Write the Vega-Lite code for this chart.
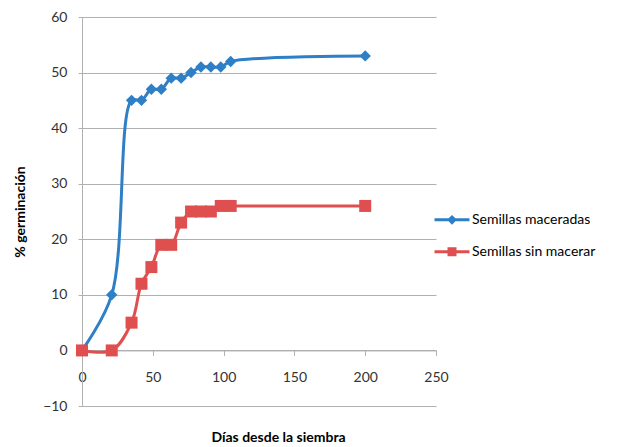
{
  "$schema": "https://vega.github.io/schema/vega-lite/v6.json",
  "width": 354,
  "height": 389,
  "autosize": {"type": "none"},
  "padding": {"left": 82, "top": 17, "right": 183, "bottom": 41},
  "background": "white",
  "config": {
    "font": "Lato",
    "view": {"stroke": null},
    "axis": {"labelFont": "Lato", "titleFont": "Lato", "labelColor": "#333333", "titleColor": "#000000"}
  },
  "data": {
    "values": [
      {"serie": "Semillas maceradas", "dias": 0, "pct": 0},
      {"serie": "Semillas maceradas", "dias": 21, "pct": 10},
      {"serie": "Semillas maceradas", "dias": 35, "pct": 45},
      {"serie": "Semillas maceradas", "dias": 42, "pct": 45},
      {"serie": "Semillas maceradas", "dias": 49, "pct": 47},
      {"serie": "Semillas maceradas", "dias": 56, "pct": 47},
      {"serie": "Semillas maceradas", "dias": 63, "pct": 49},
      {"serie": "Semillas maceradas", "dias": 70, "pct": 49},
      {"serie": "Semillas maceradas", "dias": 77, "pct": 50},
      {"serie": "Semillas maceradas", "dias": 84, "pct": 51},
      {"serie": "Semillas maceradas", "dias": 91, "pct": 51},
      {"serie": "Semillas maceradas", "dias": 98, "pct": 51},
      {"serie": "Semillas maceradas", "dias": 105, "pct": 52},
      {"serie": "Semillas maceradas", "dias": 200, "pct": 53},
      {"serie": "Semillas sin macerar", "dias": 0, "pct": 0},
      {"serie": "Semillas sin macerar", "dias": 21, "pct": 0},
      {"serie": "Semillas sin macerar", "dias": 35, "pct": 5},
      {"serie": "Semillas sin macerar", "dias": 42, "pct": 12},
      {"serie": "Semillas sin macerar", "dias": 49, "pct": 15},
      {"serie": "Semillas sin macerar", "dias": 56, "pct": 19},
      {"serie": "Semillas sin macerar", "dias": 63, "pct": 19},
      {"serie": "Semillas sin macerar", "dias": 70, "pct": 23},
      {"serie": "Semillas sin macerar", "dias": 77, "pct": 25},
      {"serie": "Semillas sin macerar", "dias": 84, "pct": 25},
      {"serie": "Semillas sin macerar", "dias": 91, "pct": 25},
      {"serie": "Semillas sin macerar", "dias": 98, "pct": 26},
      {"serie": "Semillas sin macerar", "dias": 105, "pct": 26},
      {"serie": "Semillas sin macerar", "dias": 200, "pct": 26}
    ]
  },
  "encoding": {
    "x": {
      "field": "dias",
      "type": "quantitative",
      "scale": {"domain": [0, 250], "nice": false, "zero": false},
      "axis": {
        "values": [0, 50, 100, 150, 200, 250],
        "offset": -55.571,
        "grid": false,
        "domainColor": "#b0b0b0",
        "tickColor": "#b0b0b0",
        "tickSize": 5,
        "labelFontSize": 14,
        "labelPadding": 15,
        "labelFlush": false,
        "title": "Días desde la siembra",
        "titleFontSize": 14,
        "titleFontWeight": "bold",
        "titleAlign": "center",
        "titleBaseline": "alphabetic",
        "titleX": 196,
        "titleY": 91.5
      }
    },
    "y": {
      "field": "pct",
      "type": "quantitative",
      "scale": {"domain": [-10, 60], "nice": false, "zero": false},
      "axis": {
        "values": [-10, 0, 10, 20, 30, 40, 50, 60],
        "grid": true,
        "gridColor": "#b0b0b0",
        "domainColor": "#b0b0b0",
        "tickColor": "#b0b0b0",
        "tickSize": 4,
        "labelFontSize": 14,
        "labelPadding": 11,
        "labelFlush": false,
        "title": "% germinación",
        "titleFontSize": 14,
        "titleFontWeight": "bold",
        "titleAngle": -90,
        "titleAlign": "center",
        "titleBaseline": "alphabetic",
        "titleX": -58,
        "titleY": 194.5
      }
    }
  },
  "layer": [
    {
      "mark": {"type": "line", "interpolate": "catmull-rom", "strokeWidth": 3},
      "encoding": {
        "color": {
          "field": "serie",
          "type": "nominal",
          "scale": {"domain": ["Semillas maceradas", "Semillas sin macerar"], "range": ["#2e7fc6", "#e04f4f"]},
          "legend": {
            "orient": "none",
            "legendX": 358.5,
            "legendY": 191.3,
            "title": null,
            "padding": 0,
            "symbolSize": 400,
            "symbolStrokeWidth": 3,
            "labelOffset": 8.5,
            "rowPadding": 11,
            "labelFont": "Lato",
            "labelFontSize": 14,
            "labelColor": "#000000",
            "encode": {
              "symbols": {
                "update": {
                  "shape": {"signal": "datum.value === 'Semillas maceradas' ? 'M-1.75,0H1.75M0,-0.28L0.28,0L0,0.28L-0.28,0Z' : 'M-1.75,0H1.75M-0.3,-0.3H0.3V0.3H-0.3Z'"},
                  "fill": {"signal": "datum.value === 'Semillas maceradas' ? '#2e7fc6' : '#e04f4f'"},
                  "stroke": {"signal": "datum.value === 'Semillas maceradas' ? '#2e7fc6' : '#e04f4f'"},
                  "opacity": {"value": 1}
                }
              }
            }
          }
        }
      }
    },
    {
      "mark": {
        "type": "point",
        "filled": true,
        "opacity": 1,
        "shape": {"expr": "datum.serie === 'Semillas maceradas' ? 'diamond' : 'square'"},
        "size": {"expr": "datum.serie === 'Semillas maceradas' ? 130 : 144"}
      },
      "encoding": {
        "color": {"field": "serie", "type": "nominal"}
      }
    }
  ]
}
